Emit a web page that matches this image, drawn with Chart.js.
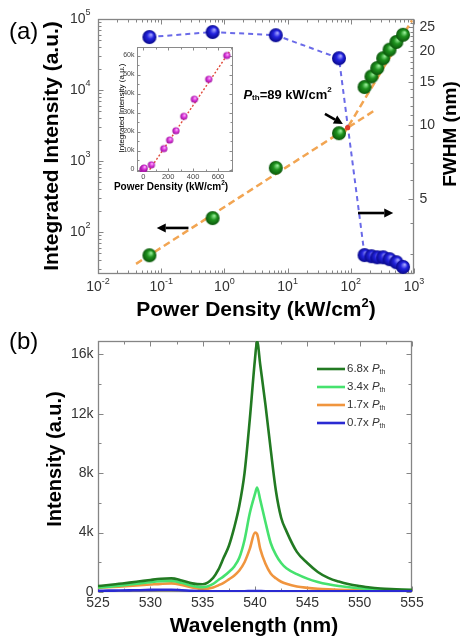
<!DOCTYPE html>
<html><head><meta charset="utf-8">
<script src="https://cdn.jsdelivr.net/npm/chart.js@4.4.0/dist/chart.umd.min.js"></script>
<style>
html,body{margin:0;padding:0;background:#fff;}
#wrap{position:relative;width:462px;height:636px;overflow:hidden;background:#fff;}
canvas{position:absolute;}
</style></head><body>
<div id="wrap">
<canvas id="cA" width="462" height="320" style="left:0;top:0;"></canvas>
<canvas id="cI" width="150" height="157" style="left:95px;top:38px;"></canvas>
<canvas id="cB" width="462" height="316" style="left:0;top:320px;"></canvas>
</div>
<script>
// ---------------- DATA ----------------
// Panel (a): power density (kW/cm2), integrated intensity (a.u.), FWHM (nm)
const powerDensity = [0.065, 0.65, 6.5, 65, 165, 212, 262, 325, 410, 525, 670];
const integratedIntensity = [47, 157, 800, 2460, 11000, 15500, 20400, 28000, 37000, 47500, 60000];
const fwhm = [22.8, 23.9, 23.2, 18.7, 2.96, 2.93, 2.90, 2.90, 2.85, 2.77, 2.65];
// log-log fits below / above threshold
const fitBelowX = [0.04, 250];
const fitBelowY = [35.6, 5300];
const fitAboveX = [75, 930];
const fitAboveY = [2290, 95800];
const thresholdX = [89];
const thresholdY = [2950];
// inset linear fit
const insetFitX = [52, 700];
const insetFitY = [0, 62900];
// annotations (data units)
const arrowIntensity = {x: [0.27, 0.085], y: [114, 114]};
const arrowFwhm = {x: [130, 470], y: [185, 185]};
const arrowThreshold = {x: [39, 75], y: [4600, 3330]};
const thresholdLabel = {x: 2.0, y: 8500, value: '=89 kW/cm'};

// Panel (b): spectra (intensity in thousands)
const wavelength = [525,526,527,528,529,530,531,532,533,534,535,
  536,536.5,537,537.5,538,538.5,539,539.5,540,540.2,540.5,541,541.5,542,542.5,543,
  544,545,546,547,548,549,550,551,552,553,554,555];
const spec68 = [0.40,0.47,0.55,0.63,0.72,0.81,0.89,0.92,0.78,0.58,0.52,
  0.95,1.5,2.3,3.1,4.3,5.8,8.0,11.6,15.7,16.9,15.3,12.6,9.6,6.8,5.0,4.1,
  2.7,1.95,1.35,0.95,0.7,0.52,0.4,0.3,0.24,0.2,0.17,0.15];
const spec34 = [0.30,0.36,0.42,0.50,0.58,0.66,0.72,0.74,0.62,0.42,0.32,
  0.55,0.81,1.05,1.35,1.7,2.3,3.5,5.3,6.6,7.04,6.2,4.7,3.3,2.5,1.95,1.6,
  1.2,0.9,0.68,0.52,0.4,0.32,0.26,0.21,0.18,0.15,0.13,0.12];
const spec17 = [0.28,0.32,0.36,0.40,0.45,0.50,0.55,0.58,0.48,0.30,0.20,
  0.30,0.45,0.62,0.85,1.1,1.45,2.0,2.9,4.0,3.9,2.9,1.9,1.25,0.92,0.69,0.55,
  0.37,0.28,0.22,0.18,0.15,0.13,0.12,0.11,0.10,0.10,0.09,0.09];
const spec07 = [0.08,0.09,0.10,0.11,0.12,0.14,0.15,0.15,0.12,0.08,0.06,
  0.05,0.04,0.04,0.04,0.04,0.05,0.05,0.06,0.07,0.07,0.06,0.05,0.05,0.04,0.04,0.04,
  0.04,0.04,0.04,0.04,0.04,0.04,0.04,0.04,0.04,0.04,0.04,0.04];
const seriesNames = ['6.8x', '3.4x', '1.7x', '0.7x'];

// tick labels
const xDecadeExps = [-2, -1, 0, 1, 2, 3];
const yDecadeExps = [2, 3, 4, 5];
const fwhmTicks = [5, 10, 15, 20, 25];
const wlTicks = [525, 530, 535, 540, 545, 550, 555];
const specTicks = [0, 4, 8, 12, 16];
const insetXTicks = [0, 200, 400, 600];
const insetYTicks = [0, 10000, 20000, 30000, 40000, 50000, 60000];

// ---------------- HELPERS ----------------
const FONT = '"Liberation Sans", Arial, Helvetica, sans-serif';
function xy(xs, ys) { return xs.map((x, i) => ({x: x, y: ys[i]})); }
function logMinor(min, max) {
  const out = [];
  for (let e = Math.floor(Math.log10(min)); e <= Math.ceil(Math.log10(max)); e++) {
    for (let k = 2; k <= 9; k++) { const v = k * Math.pow(10, e); if (v >= min && v <= max) out.push(v); }
  }
  return out;
}
function between(majors, step) { const o = []; for (let i = 0; i < majors.length - 1; i++) o.push(majors[i] + step); return o; }
function sphere(r, hi, mid, edge) {
  const s = Math.ceil(2 * r + 2);
  const c = document.createElement('canvas'); c.width = s; c.height = s;
  const g = c.getContext('2d'); const cx = s / 2, cy = s / 2;
  const grd = g.createRadialGradient(cx + r * 0.25, cy - r * 0.35, r * 0.05, cx, cy, r);
  grd.addColorStop(0, hi); grd.addColorStop(0.45, mid); grd.addColorStop(1, edge);
  g.fillStyle = grd; g.beginPath(); g.arc(cx, cy, r, 0, Math.PI * 2); g.fill();
  return c;
}
function fontStr(p) { return (p.italic ? 'italic ' : '') + (p.bold ? 'bold ' : '') + p.size + 'px ' + FONT; }
function drawRich(ctx, parts, x, y, o) {
  ctx.save(); ctx.translate(x, y); if (o.rot) ctx.rotate(o.rot);
  let w = 0; parts.forEach(p => { ctx.font = fontStr(p); w += ctx.measureText(p.t).width; });
  let cx = o.align === 'center' ? -w / 2 : (o.align === 'right' ? -w : 0);
  ctx.textBaseline = 'middle'; ctx.textAlign = 'left'; ctx.fillStyle = o.color || '#000';
  parts.forEach(p => { ctx.font = fontStr(p); ctx.fillText(p.t, cx, p.dy || 0); cx += ctx.measureText(p.t).width; });
  ctx.restore();
}
function tickPath(ctx, b, side, sc, vals, len) {
  ctx.beginPath();
  vals.forEach(v => {
    const p = Math.round(sc.getPixelForValue(v)) + 0.5;
    if (side === 'bottom') { ctx.moveTo(p, b.bottom); ctx.lineTo(p, b.bottom - len); }
    else if (side === 'top') { ctx.moveTo(p, b.top); ctx.lineTo(p, b.top + len); }
    else if (side === 'left') { ctx.moveTo(b.left, p); ctx.lineTo(b.left + len, p); }
    else { ctx.moveTo(b.right, p); ctx.lineTo(b.right - len, p); }
  });
  ctx.stroke();
}
function framePlugin(cfg) {
  return {
    id: 'frame',
    beforeDatasetsDraw(chart) {
      const ctx = chart.ctx, a = chart.chartArea;
      ctx.save();
      const b = {left: Math.round(a.left) + 0.5, top: Math.round(a.top) + 0.5, right: Math.round(a.right) - 0.5, bottom: Math.round(a.bottom) - 0.5};
      ctx.strokeStyle = cfg.color; ctx.lineWidth = cfg.lineWidth;
      ctx.strokeRect(b.left, b.top, b.right - b.left, b.bottom - b.top);
      cfg.sides.forEach(s => {
        const sc = chart.scales[s.scale];
        ctx.lineWidth = 1;
        tickPath(ctx, b, s.side, sc, s.major, cfg.majorLen);
        tickPath(ctx, b, s.side, sc, s.minor || [], cfg.minorLen);
        if (s.label) {
          s.major.forEach(v => {
            const parts = s.label(v); if (!parts) return;
            const p = sc.getPixelForValue(v);
            let x, y, align;
            if (s.side === 'bottom') { x = p; y = b.bottom + s.offset; align = 'center'; }
            else if (s.side === 'left') { x = b.left - s.offset; y = p; align = 'right'; }
            else { x = b.right + s.offset; y = p; align = 'left'; }
            drawRich(ctx, parts, x, y, {align: align, color: cfg.labelColor});
          });
        }
      });
      ctx.restore();
    }
  };
}
function textPlugin(fn) { return {id: 'texts', afterDraw(chart) { const ctx = chart.ctx; ctx.save(); fn(chart, ctx); ctx.restore(); }}; }
function arrow(ctx, x1, y1, x2, y2, lw, head) {
  const ang = Math.atan2(y2 - y1, x2 - x1);
  const bx = x2 - head * Math.cos(ang), by = y2 - head * Math.sin(ang);
  ctx.lineWidth = lw; ctx.strokeStyle = '#000'; ctx.fillStyle = '#000';
  ctx.beginPath(); ctx.moveTo(x1, y1); ctx.lineTo(bx, by); ctx.stroke();
  const hw = head * 0.5;
  ctx.beginPath(); ctx.moveTo(x2, y2);
  ctx.lineTo(bx + hw * Math.sin(ang), by - hw * Math.cos(ang));
  ctx.lineTo(bx - hw * Math.sin(ang), by + hw * Math.cos(ang));
  ctx.closePath(); ctx.fill();
}
function pow10Label(e) { return [{t: '10', size: 14}, {t: String(e), size: 9, dy: -6}]; }

const greenBall = sphere(7, '#9af09a', '#1f931f', '#0a560a');
const blueBall = sphere(7, '#a8a8ff', '#2424e0', '#08088a');
const pinkBall = sphere(3.6, '#ffc8ff', '#e13ce1', '#9a109a');

const baseOpts = {responsive: false, animation: false, devicePixelRatio: 1, events: [],
  plugins: {legend: {display: false}, tooltip: {enabled: false}}};

// ---------------- PANEL (a) ----------------
const xA = {min: 0.01, max: 1000};
const yA = {min: 25.6, max: 1e5};
const y2A = {min: 2.48, max: 27};
const xMajorA = xDecadeExps.map(e => Math.pow(10, e));
const yMajorA = yDecadeExps.map(e => Math.pow(10, e));
new Chart(document.getElementById('cA'), {
  type: 'scatter',
  data: {datasets: [
    {data: xy(thresholdX, thresholdY), pointRadius: 2.6, pointBackgroundColor: '#e0402a', pointBorderWidth: 0, yAxisID: 'y', order: 1},
    {data: xy(powerDensity, integratedIntensity), pointStyle: greenBall, pointRadius: 7, yAxisID: 'y', order: 2},
    {data: xy(powerDensity, fwhm), showLine: true, borderColor: '#6a6ae8', borderWidth: 2, borderDash: [5, 4], pointStyle: blueBall, pointRadius: 7, yAxisID: 'y2', order: 3},
    {data: xy(fitBelowX, fitBelowY), showLine: true, borderColor: '#f2a552', borderWidth: 2.5, borderDash: [7, 4], pointRadius: 0, yAxisID: 'y', order: 5},
    {data: xy(fitAboveX, fitAboveY), showLine: true, borderColor: '#f2a552', borderWidth: 2.5, borderDash: [7, 4], pointRadius: 0, yAxisID: 'y', order: 6}
  ]},
  options: Object.assign({}, baseOpts, {
    layout: {padding: {left: 98, right: 48, top: 19, bottom: 46}},
    scales: {
      x: {type: 'logarithmic', min: xA.min, max: xA.max, display: false},
      y: {type: 'logarithmic', min: yA.min, max: yA.max, display: false},
      y2: {type: 'logarithmic', position: 'right', min: y2A.min, max: y2A.max, display: false}
    }
  }),
  plugins: [
    framePlugin({color: '#858585', lineWidth: 1.3, labelColor: '#333', majorLen: 5, minorLen: 3, sides: [
      {side: 'bottom', scale: 'x', major: xMajorA, minor: logMinor(xA.min, xA.max), offset: 14, label: v => pow10Label(Math.round(Math.log10(v)))},
      {side: 'top', scale: 'x', major: xMajorA, minor: logMinor(xA.min, xA.max)},
      {side: 'left', scale: 'y', major: yMajorA, minor: logMinor(yA.min, yA.max), offset: 8, label: v => pow10Label(Math.round(Math.log10(v)))},
      {side: 'right', scale: 'y2', major: fwhmTicks, minor: Array.from({length: 24}, (_, i) => i + 3).filter(v => fwhmTicks.indexOf(v) < 0), offset: 6, label: v => [{t: String(v), size: 14}]}
    ]}),
    textPlugin((chart, ctx) => {
      const sx = chart.scales.x, sy = chart.scales.y;
      const P = (x, y) => [sx.getPixelForValue(x), sy.getPixelForValue(y)];
      [arrowIntensity, arrowFwhm].forEach(a => {
        const p1 = P(a.x[0], a.y[0]), p2 = P(a.x[1], a.y[1]);
        arrow(ctx, p1[0], p1[1], p2[0], p2[1], 2.6, 9);
      });
      const t1 = P(arrowThreshold.x[0], arrowThreshold.y[0]), t2 = P(arrowThreshold.x[1], arrowThreshold.y[1]);
      arrow(ctx, t1[0], t1[1], t2[0], t2[1], 2.6, 9);
      const lp = P(thresholdLabel.x, thresholdLabel.y);
      drawRich(ctx, [
        {t: 'P', size: 13, bold: true, italic: true},
        {t: 'th', size: 8, bold: true, dy: 3},
        {t: thresholdLabel.value, size: 13, bold: true},
        {t: '2', size: 8, bold: true, dy: -5}
      ], lp[0], lp[1], {align: 'left'});
      drawRich(ctx, [{t: '(a)', size: 24}], 9, 32, {align: 'left'});
      drawRich(ctx, [{t: 'Integrated Intensity (a.u.)', size: 21, bold: true}], 52, 146, {align: 'center', rot: -Math.PI / 2});
      drawRich(ctx, [{t: 'Power Density (kW/cm', size: 21, bold: true}, {t: '2', size: 13, bold: true, dy: -7}, {t: ')', size: 21, bold: true}], 256, 310, {align: 'center'});
      drawRich(ctx, [{t: 'FWHM (nm)', size: 19, bold: true}], 451, 134, {align: 'center', rot: -Math.PI / 2});
    })
  ]
});

// ---------------- INSET ----------------
const xI = {min: -50, max: 720};
const yI = {min: -1300, max: 64500};
new Chart(document.getElementById('cI'), {
  type: 'scatter',
  data: {datasets: [
    {data: xy(powerDensity, integratedIntensity), pointStyle: pinkBall, pointRadius: 3.6, order: 1},
    {data: xy(insetFitX, insetFitY), showLine: true, borderColor: '#e04a3a', borderWidth: 1.4, borderDash: [2, 2], pointRadius: 0, order: 2}
  ]},
  options: Object.assign({}, baseOpts, {
    layout: {padding: {left: 42, right: 12, top: 9, bottom: 23}},
    scales: {
      x: {type: 'linear', min: xI.min, max: xI.max, display: false},
      y: {type: 'linear', min: yI.min, max: yI.max, display: false}
    }
  }),
  plugins: [
    framePlugin({color: '#8a8a8a', lineWidth: 1, labelColor: '#444', majorLen: 3, minorLen: 2, sides: [
      {side: 'bottom', scale: 'x', major: insetXTicks, minor: [100, 300, 500, 700], offset: 5, label: v => [{t: String(v), size: 7.5}]},
      {side: 'top', scale: 'x', major: insetXTicks, minor: [100, 300, 500, 700]},
      {side: 'left', scale: 'y', major: insetYTicks, minor: between(insetYTicks, 5000), offset: 3, label: v => [{t: v === 0 ? '0' : (v / 1000) + 'k', size: 7}]},
      {side: 'right', scale: 'y', major: insetYTicks, minor: between(insetYTicks, 5000)}
    ]}),
    textPlugin((chart, ctx) => {
      drawRich(ctx, [{t: 'Integrated Intensity (a.u.)', size: 8}], 27, 70, {align: 'center', rot: -Math.PI / 2});
      drawRich(ctx, [{t: 'Power Density (kW/cm', size: 10, bold: true}, {t: '2', size: 6.5, bold: true, dy: -4}, {t: ')', size: 10, bold: true}], 76, 149, {align: 'center'});
    })
  ]
});

// ---------------- PANEL (b) ----------------
const xB = {min: 525, max: 555};
const yB = {min: 0, max: 16.9};
const specColors = ['#227a22', '#46e26e', '#f0953e', '#2a2ad2'];
const specData = [spec68, spec34, spec17, spec07];
const specOrder = [2, 3, 4, 1];
new Chart(document.getElementById('cB'), {
  type: 'scatter',
  data: {datasets: specData.map((s, i) => ({
    label: seriesNames[i], data: xy(wavelength, s), showLine: true, borderColor: specColors[i], borderWidth: 2.6,
    pointRadius: 0, cubicInterpolationMode: 'monotone', order: specOrder[i]
  }))},
  options: Object.assign({}, baseOpts, {
    layout: {padding: {left: 98, right: 50, top: 21, bottom: 44}},
    scales: {
      x: {type: 'linear', min: xB.min, max: xB.max, display: false},
      y: {type: 'linear', min: yB.min, max: yB.max, display: false}
    }
  }),
  plugins: [
    framePlugin({color: '#858585', lineWidth: 1.3, labelColor: '#333', majorLen: 5, minorLen: 3, sides: [
      {side: 'bottom', scale: 'x', major: wlTicks, minor: between(wlTicks, 2.5), offset: 12, label: v => [{t: String(v), size: 14}]},
      {side: 'top', scale: 'x', major: wlTicks, minor: between(wlTicks, 2.5)},
      {side: 'left', scale: 'y', major: specTicks, minor: between(specTicks, 2), offset: 5, label: v => [{t: v === 0 ? '0' : v + 'k', size: 14}]},
      {side: 'right', scale: 'y', major: specTicks, minor: between(specTicks, 2)}
    ]}),
    textPlugin((chart, ctx) => {
      const a = chart.chartArea;
      seriesNames.forEach((n, i) => {
        const y = a.top + 28 + i * 18;
        ctx.strokeStyle = specColors[i]; ctx.lineWidth = 2.6;
        ctx.beginPath(); ctx.moveTo(a.right - 95, y); ctx.lineTo(a.right - 67, y); ctx.stroke();
        drawRich(ctx, [{t: n + ' ', size: 11.5}, {t: 'P', size: 11.5, italic: true}, {t: 'th', size: 7, dy: 3}], a.right - 65, y, {align: 'left', color: '#333'});
      });
      drawRich(ctx, [{t: '(b)', size: 24}], 9, 22, {align: 'left'});
      drawRich(ctx, [{t: 'Intensity (a.u.)', size: 20, bold: true}], 55, 139, {align: 'center', rot: -Math.PI / 2});
      drawRich(ctx, [{t: 'Wavelength (nm)', size: 21, bold: true}], 254, 306, {align: 'center'});
    })
  ]
});
</script>
</body></html>
